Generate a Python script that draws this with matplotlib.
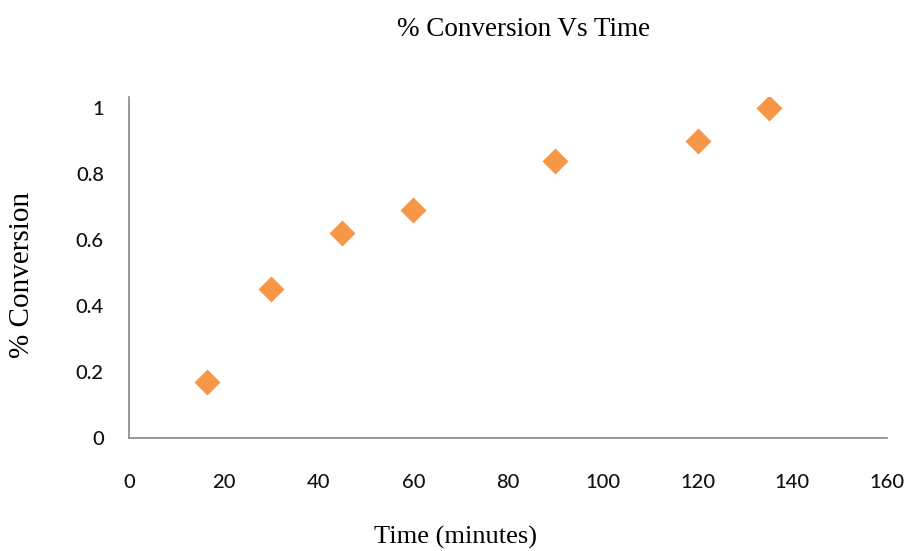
import matplotlib.pyplot as plt

# data
time_min = [16.5, 30, 45, 60, 90, 120, 135]
conversion = [0.17, 0.45, 0.62, 0.69, 0.84, 0.90, 1.0]
x_ticks = [0, 20, 40, 60, 80, 100, 120, 140, 160]
y_ticks = [0, 0.2, 0.4, 0.6, 0.8, 1]
y_labels = ['0', '0.2', '0.4', '0.6', '0.8', '1']

serif = 'Liberation Serif'
sans = 'Lato'

fig = plt.figure(figsize=(9.1, 5.51), dpi=100)
ax = fig.add_axes([129 / 910, 1 - 438 / 551, (887 - 129) / 910, (438 - 97) / 551])

ax.scatter(time_min, conversion, marker='D', s=175, color='#F79646', linewidths=0, zorder=3)

ax.set_xlim(0, 160)
ax.set_ylim(0, 1.033)
ax.set_xticks(x_ticks)
ax.set_yticks(y_ticks)
ax.set_yticklabels(y_labels)
ax.tick_params(length=0, labelsize=14.5, colors='#111111')
ax.tick_params(axis='x', pad=26)
ax.tick_params(axis='y', pad=18)
for lab in ax.get_xticklabels() + ax.get_yticklabels():
    lab.set_family(sans)
    lab.set_fontweight('medium')

for side in ['top', 'right']:
    ax.spines[side].set_visible(False)
for side in ['left', 'bottom']:
    ax.spines[side].set_color('#888888')
    ax.spines[side].set_linewidth(1.2)

fig.text(524 / 910, 1 - 30 / 551, '% Conversion Vs Time', family=serif, fontsize=19.5,
         ha='center', va='center')
fig.text(455 / 910, 1 - 537 / 551, 'Time (minutes)', family=serif, fontsize=19,
         ha='center', va='center')
fig.text(22 / 910, 1 - 275 / 551, '% Conversion', family=serif, fontsize=21,
         ha='center', va='center', rotation=90)

fig.savefig('out.png', dpi=100)
